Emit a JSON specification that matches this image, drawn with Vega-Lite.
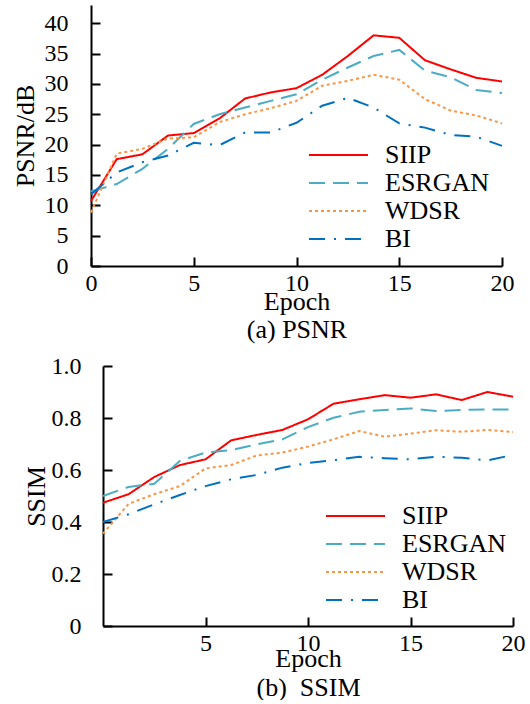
{
  "$schema": "https://vega.github.io/schema/vega-lite/v6.json",
  "padding": {"left": 11, "top": 5, "right": 0, "bottom": 0},
  "background": "white",
  "config": {
    "view": {"stroke": null},
    "font": "Liberation Serif",
    "axis": {
      "domainColor": "black", "domainWidth": 2, "tickColor": "black", "tickWidth": 2, "tickSize": -9,
      "grid": false, "labelFont": "Liberation Serif", "labelFontSize": 24, "labelColor": "black",
      "titleFont": "Liberation Serif", "titleFontSize": 26, "titleFontWeight": "normal", "titleColor": "black",
      "labelFlush": false, "labelOverlap": false
    },
    "legend": {
      "orient": "none", "labelFont": "Liberation Serif", "labelFontSize": 26, "labelColor": "black",
      "symbolType": "stroke", "symbolSize": 3481, "symbolStrokeWidth": 2, "clipHeight": 28, "rowPadding": 0,
      "labelOffset": 16, "padding": 0, "title": null
    }
  },
  "datasets": {
    "psnr": [
      {"epoch": 0, "method": "SIIP", "value": 10.7}, {"epoch": 1.25, "method": "SIIP", "value": 17.6}, {"epoch": 2.5, "method": "SIIP", "value": 18.4}, {"epoch": 3.75, "method": "SIIP", "value": 21.5}, {"epoch": 5, "method": "SIIP", "value": 21.9}, {"epoch": 6.25, "method": "SIIP", "value": 24.3}, {"epoch": 7.5, "method": "SIIP", "value": 27.6}, {"epoch": 8.75, "method": "SIIP", "value": 28.6}, {"epoch": 10, "method": "SIIP", "value": 29.3}, {"epoch": 11.25, "method": "SIIP", "value": 31.5}, {"epoch": 12.5, "method": "SIIP", "value": 34.6}, {"epoch": 13.75, "method": "SIIP", "value": 38.0}, {"epoch": 15, "method": "SIIP", "value": 37.6}, {"epoch": 16.25, "method": "SIIP", "value": 33.9}, {"epoch": 17.5, "method": "SIIP", "value": 32.4}, {"epoch": 18.75, "method": "SIIP", "value": 31.0}, {"epoch": 20, "method": "SIIP", "value": 30.4},
      {"epoch": 0, "method": "ESRGAN", "value": 12.3}, {"epoch": 1.25, "method": "ESRGAN", "value": 13.5}, {"epoch": 2.5, "method": "ESRGAN", "value": 16.0}, {"epoch": 3.75, "method": "ESRGAN", "value": 19.3}, {"epoch": 5, "method": "ESRGAN", "value": 23.4}, {"epoch": 6.25, "method": "ESRGAN", "value": 25.0}, {"epoch": 7.5, "method": "ESRGAN", "value": 26.1}, {"epoch": 8.75, "method": "ESRGAN", "value": 27.2}, {"epoch": 10, "method": "ESRGAN", "value": 28.3}, {"epoch": 11.25, "method": "ESRGAN", "value": 30.7}, {"epoch": 12.5, "method": "ESRGAN", "value": 32.7}, {"epoch": 13.75, "method": "ESRGAN", "value": 34.6}, {"epoch": 15, "method": "ESRGAN", "value": 35.6}, {"epoch": 16.25, "method": "ESRGAN", "value": 32.2}, {"epoch": 17.5, "method": "ESRGAN", "value": 31.1}, {"epoch": 18.75, "method": "ESRGAN", "value": 29.0}, {"epoch": 20, "method": "ESRGAN", "value": 28.5},
      {"epoch": 0, "method": "WDSR", "value": 8.8}, {"epoch": 1.25, "method": "WDSR", "value": 18.5}, {"epoch": 2.5, "method": "WDSR", "value": 19.3}, {"epoch": 3.75, "method": "WDSR", "value": 21.0}, {"epoch": 5, "method": "WDSR", "value": 21.2}, {"epoch": 6.25, "method": "WDSR", "value": 23.7}, {"epoch": 7.5, "method": "WDSR", "value": 25.0}, {"epoch": 8.75, "method": "WDSR", "value": 26.0}, {"epoch": 10, "method": "WDSR", "value": 27.2}, {"epoch": 11.25, "method": "WDSR", "value": 29.7}, {"epoch": 12.5, "method": "WDSR", "value": 30.5}, {"epoch": 13.75, "method": "WDSR", "value": 31.5}, {"epoch": 15, "method": "WDSR", "value": 30.7}, {"epoch": 16.25, "method": "WDSR", "value": 27.5}, {"epoch": 17.5, "method": "WDSR", "value": 25.6}, {"epoch": 18.75, "method": "WDSR", "value": 24.8}, {"epoch": 20, "method": "WDSR", "value": 23.5},
      {"epoch": 0, "method": "BI", "value": 11.8}, {"epoch": 1.25, "method": "BI", "value": 15.4}, {"epoch": 2.5, "method": "BI", "value": 17.1}, {"epoch": 3.75, "method": "BI", "value": 18.2}, {"epoch": 5, "method": "BI", "value": 20.3}, {"epoch": 6.25, "method": "BI", "value": 19.9}, {"epoch": 7.5, "method": "BI", "value": 22.0}, {"epoch": 8.75, "method": "BI", "value": 22.0}, {"epoch": 10, "method": "BI", "value": 23.6}, {"epoch": 11.25, "method": "BI", "value": 26.4}, {"epoch": 12.5, "method": "BI", "value": 27.7}, {"epoch": 13.75, "method": "BI", "value": 26.1}, {"epoch": 15, "method": "BI", "value": 23.5}, {"epoch": 16.25, "method": "BI", "value": 22.8}, {"epoch": 17.5, "method": "BI", "value": 21.6}, {"epoch": 18.75, "method": "BI", "value": 21.3}, {"epoch": 20, "method": "BI", "value": 19.8}
    ],
    "ssim": [
      {"epoch": 0, "method": "SIIP", "value": 0.474}, {"epoch": 1.25, "method": "SIIP", "value": 0.507}, {"epoch": 2.5, "method": "SIIP", "value": 0.573}, {"epoch": 3.75, "method": "SIIP", "value": 0.619}, {"epoch": 5, "method": "SIIP", "value": 0.641}, {"epoch": 6.25, "method": "SIIP", "value": 0.714}, {"epoch": 7.5, "method": "SIIP", "value": 0.735}, {"epoch": 8.75, "method": "SIIP", "value": 0.754}, {"epoch": 10, "method": "SIIP", "value": 0.795}, {"epoch": 11.25, "method": "SIIP", "value": 0.855}, {"epoch": 12.5, "method": "SIIP", "value": 0.872}, {"epoch": 13.75, "method": "SIIP", "value": 0.888}, {"epoch": 15, "method": "SIIP", "value": 0.878}, {"epoch": 16.25, "method": "SIIP", "value": 0.891}, {"epoch": 17.5, "method": "SIIP", "value": 0.869}, {"epoch": 18.75, "method": "SIIP", "value": 0.900}, {"epoch": 20, "method": "SIIP", "value": 0.882},
      {"epoch": 0, "method": "ESRGAN", "value": 0.500}, {"epoch": 1.25, "method": "ESRGAN", "value": 0.535}, {"epoch": 2.5, "method": "ESRGAN", "value": 0.547}, {"epoch": 3.75, "method": "ESRGAN", "value": 0.635}, {"epoch": 5, "method": "ESRGAN", "value": 0.667}, {"epoch": 6.25, "method": "ESRGAN", "value": 0.676}, {"epoch": 7.5, "method": "ESRGAN", "value": 0.699}, {"epoch": 8.75, "method": "ESRGAN", "value": 0.718}, {"epoch": 10, "method": "ESRGAN", "value": 0.765}, {"epoch": 11.25, "method": "ESRGAN", "value": 0.801}, {"epoch": 12.5, "method": "ESRGAN", "value": 0.824}, {"epoch": 13.75, "method": "ESRGAN", "value": 0.831}, {"epoch": 15, "method": "ESRGAN", "value": 0.837}, {"epoch": 16.25, "method": "ESRGAN", "value": 0.827}, {"epoch": 17.5, "method": "ESRGAN", "value": 0.831}, {"epoch": 18.75, "method": "ESRGAN", "value": 0.833}, {"epoch": 20, "method": "ESRGAN", "value": 0.833},
      {"epoch": 0, "method": "WDSR", "value": 0.355}, {"epoch": 1.25, "method": "WDSR", "value": 0.47}, {"epoch": 2.5, "method": "WDSR", "value": 0.507}, {"epoch": 3.75, "method": "WDSR", "value": 0.538}, {"epoch": 5, "method": "WDSR", "value": 0.606}, {"epoch": 6.25, "method": "WDSR", "value": 0.619}, {"epoch": 7.5, "method": "WDSR", "value": 0.656}, {"epoch": 8.75, "method": "WDSR", "value": 0.667}, {"epoch": 10, "method": "WDSR", "value": 0.69}, {"epoch": 11.25, "method": "WDSR", "value": 0.718}, {"epoch": 12.5, "method": "WDSR", "value": 0.75}, {"epoch": 13.75, "method": "WDSR", "value": 0.728}, {"epoch": 15, "method": "WDSR", "value": 0.740}, {"epoch": 16.25, "method": "WDSR", "value": 0.753}, {"epoch": 17.5, "method": "WDSR", "value": 0.747}, {"epoch": 18.75, "method": "WDSR", "value": 0.754}, {"epoch": 20, "method": "WDSR", "value": 0.746},
      {"epoch": 0, "method": "BI", "value": 0.40}, {"epoch": 1.25, "method": "BI", "value": 0.43}, {"epoch": 2.5, "method": "BI", "value": 0.468}, {"epoch": 3.75, "method": "BI", "value": 0.504}, {"epoch": 5, "method": "BI", "value": 0.538}, {"epoch": 6.25, "method": "BI", "value": 0.564}, {"epoch": 7.5, "method": "BI", "value": 0.581}, {"epoch": 8.75, "method": "BI", "value": 0.609}, {"epoch": 10, "method": "BI", "value": 0.627}, {"epoch": 11.25, "method": "BI", "value": 0.638}, {"epoch": 12.5, "method": "BI", "value": 0.651}, {"epoch": 13.75, "method": "BI", "value": 0.645}, {"epoch": 15, "method": "BI", "value": 0.641}, {"epoch": 16.25, "method": "BI", "value": 0.651}, {"epoch": 17.5, "method": "BI", "value": 0.647}, {"epoch": 18.75, "method": "BI", "value": 0.637}, {"epoch": 20, "method": "BI", "value": 0.658}
    ]
  },
  "spacing": 12,
  "vconcat": [
    {
      "spacing": 0,
      "hconcat": [
        {
          "width": 1,
          "height": 1,
          "data": {"values": [{"k": 1}]},
          "mark": {"type": "text", "text": "", "fontSize": 0},
          "encoding": {}
        },
        {
          "width": 411,
          "height": 261,
          "data": {"name": "psnr"},
          "mark": {"type": "line", "strokeWidth": 2},
          "encoding": {
            "x": {"field": "epoch", "type": "quantitative", "scale": {"domain": [0, 20], "nice": false},
                  "axis": {"values": [0, 5, 10, 15, 20], "title": ["Epoch", "(a) PSNR"], "titleLineHeight": 28, "labelPadding": 14, "titlePadding": -7}},
            "y": {"field": "value", "type": "quantitative", "scale": {"domain": [0, 43], "nice": false},
                  "axis": {"values": [0, 5, 10, 15, 20, 25, 30, 35, 40], "title": "PSNR/dB", "labelPadding": 32, "titlePadding": 6}},
            "color": {"field": "method", "type": "nominal",
                      "scale": {"domain": ["SIIP", "ESRGAN", "WDSR", "BI"], "range": ["#ff0000", "#4bacc6", "#f79646", "#0070c0"]},
                      "legend": {"legendX": 297, "legendY": 136}},
            "strokeDash": {"field": "method", "type": "nominal",
                      "scale": {"domain": ["SIIP", "ESRGAN", "WDSR", "BI"], "range": [[1, 0], [16, 8], [3, 3], [16, 9, 2, 9]]},
                      "legend": {"legendX": 297, "legendY": 136}}
          }
        }
      ]
    },
    {
      "spacing": 0,
      "hconcat": [
        {
          "width": 12,
          "height": 1,
          "data": {"values": [{"k": 1}]},
          "mark": {"type": "text", "text": "", "fontSize": 0},
          "encoding": {}
        },
        {
          "width": 410,
          "height": 260,
          "data": {"name": "ssim"},
          "mark": {"type": "line", "strokeWidth": 2},
          "encoding": {
            "x": {"field": "epoch", "type": "quantitative", "scale": {"domain": [0, 20], "nice": false},
                  "axis": {"values": [5, 10, 15, 20], "title": ["Epoch", "(b)\u00a0 SSIM"], "titleLineHeight": 29, "labelPadding": 14, "titlePadding": -10}},
            "y": {"field": "value", "type": "quantitative", "scale": {"domain": [0, 1], "nice": false},
                  "axis": {"values": [0, 0.2, 0.4, 0.6, 0.8, 1.0], "labelExpr": "datum.value == 0 ? '0' : format(datum.value, '.1f')", "title": "SSIM", "labelPadding": 31, "titlePadding": 2}},
            "color": {"field": "method", "type": "nominal",
                      "scale": {"domain": ["SIIP", "ESRGAN", "WDSR", "BI"], "range": ["#ff0000", "#4bacc6", "#f79646", "#0070c0"]},
                      "legend": {"legendX": 314, "legendY": 136}},
            "strokeDash": {"field": "method", "type": "nominal",
                      "scale": {"domain": ["SIIP", "ESRGAN", "WDSR", "BI"], "range": [[1, 0], [16, 8], [3, 3], [16, 9, 2, 9]]},
                      "legend": {"legendX": 314, "legendY": 136}}
          }
        }
      ]
    }
  ],
  "resolve": {"scale": {"color": "independent", "strokeDash": "independent"}}
}
